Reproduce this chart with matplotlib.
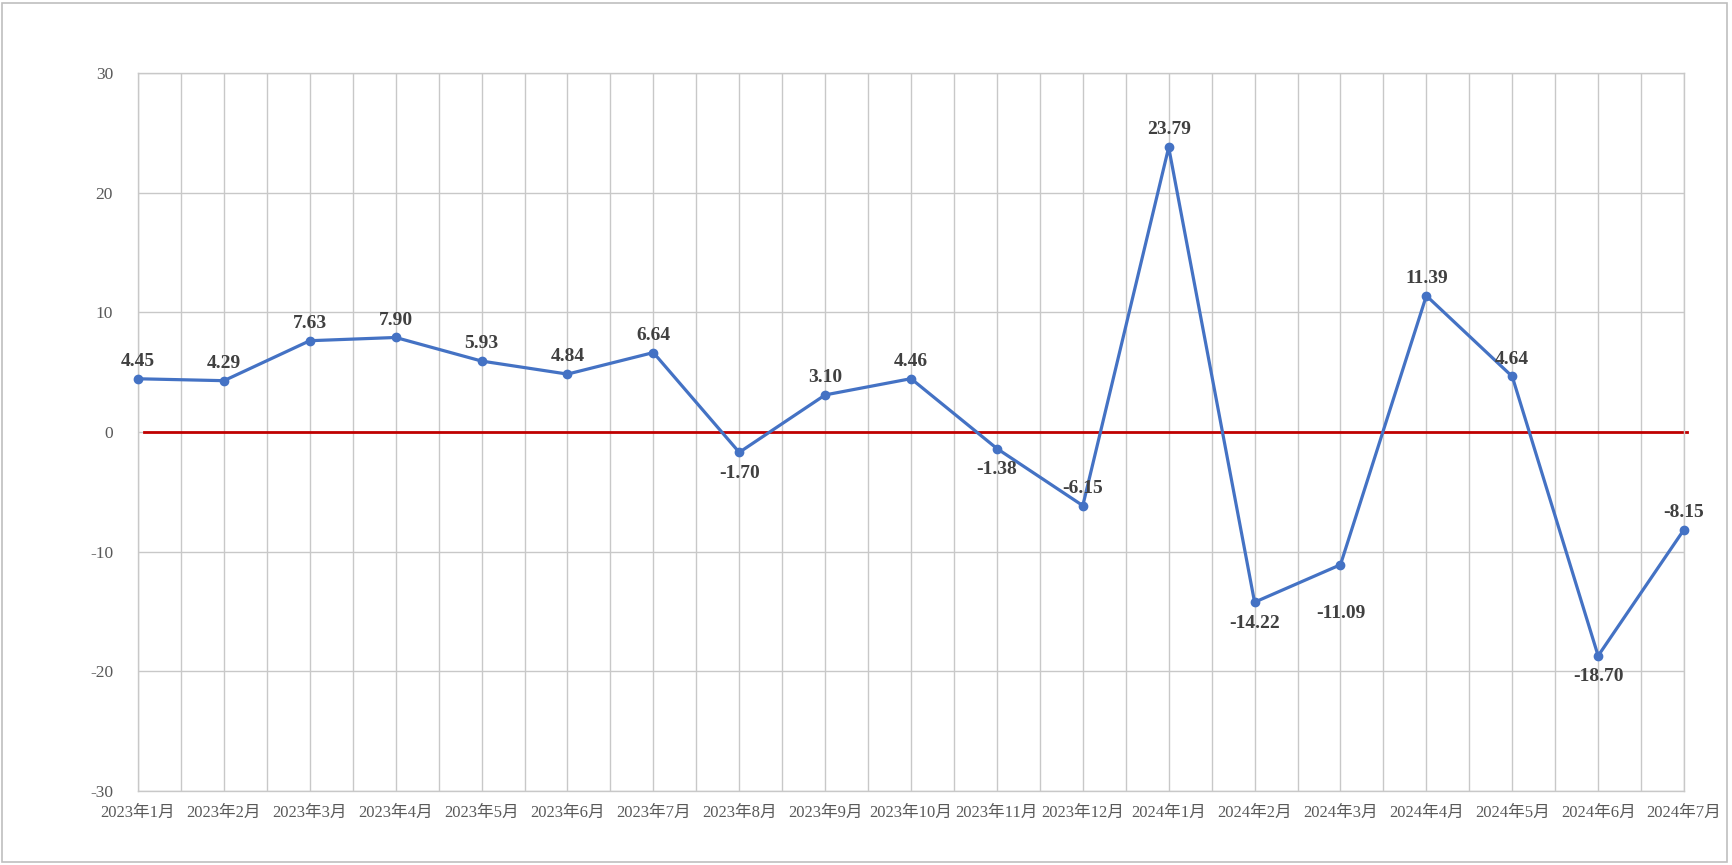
import matplotlib
matplotlib.use('Agg')
import matplotlib.pyplot as plt
from matplotlib.patches import Rectangle

months = ['2023年1月', '2023年2月', '2023年3月', '2023年4月', '2023年5月', '2023年6月',
          '2023年7月', '2023年8月', '2023年9月', '2023年10月', '2023年11月', '2023年12月',
          '2024年1月', '2024年2月', '2024年3月', '2024年4月', '2024年5月', '2024年6月',
          '2024年7月']
values = [4.45, 4.29, 7.63, 7.90, 5.93, 4.84, 6.64, -1.70, 3.10, 4.46, -1.38, -6.15,
          23.79, -14.22, -11.09, 11.39, 4.64, -18.70, -8.15]
# label offset in points: positive = above the point
label_off = [12.5, 12.5, 12.5, 12.5, 12.5, 12.5, 12.5, -15, 12.5, 12.5, -15, 12,
             12.5, -15, -35, 12.5, 12.5, -15, 12.5]

fam = ['Liberation Serif', 'Noto Sans CJK SC', 'DejaVu Sans']
plt.rcParams['font.family'] = fam

fig = plt.figure(figsize=(17.32, 8.65), dpi=100)
ax = fig.add_axes([0.0797, 0.0855, 0.9723 - 0.0797, 0.9156 - 0.0855])

x = list(range(len(months)))
grid_c = '#C8C8C8'

ax.set_xlim(0, len(months) - 1)
ax.set_ylim(-30, 30)
ax.set_yticks(range(-30, 31, 10))
ax.set_xticks(x)
ax.set_xticks([i + 0.5 for i in x[:-1]], minor=True)
ax.set_xticklabels(months, fontsize=12, color='#595959')
ax.set_yticklabels([str(v) for v in range(-30, 31, 10)], fontsize=12.5, color='#595959')
ax.tick_params(which='both', length=0)
ax.tick_params(axis='y', pad=18)
ax.tick_params(axis='x', pad=10)
ax.grid(True, which='both', color=grid_c, lw=1)
for s in ax.spines.values():
    s.set_color(grid_c)
    s.set_linewidth(1)
ax.set_axisbelow(True)

ax.axhline(0, xmin=0.004, xmax=1.002, color='#C00000', lw=2, clip_on=False, zorder=2)
ax.plot(x, values, color='#4472C4', lw=2.3, marker='o', ms=6, zorder=3, clip_on=False)

for xi, v, off in zip(x, values, label_off):
    ax.annotate(f'{v:.2f}', (xi, v), xytext=(0, off), textcoords='offset points',
                ha='center', va='center', fontsize=14, fontweight='bold',
                color='#404040')

fig.patches.append(Rectangle((2 / 1732, 3 / 865), 1725 / 1732, 859 / 865,
                             transform=fig.transFigure, fill=False,
                             edgecolor='#BFBFBF', lw=1.2))

fig.savefig('out.png', dpi=100)
